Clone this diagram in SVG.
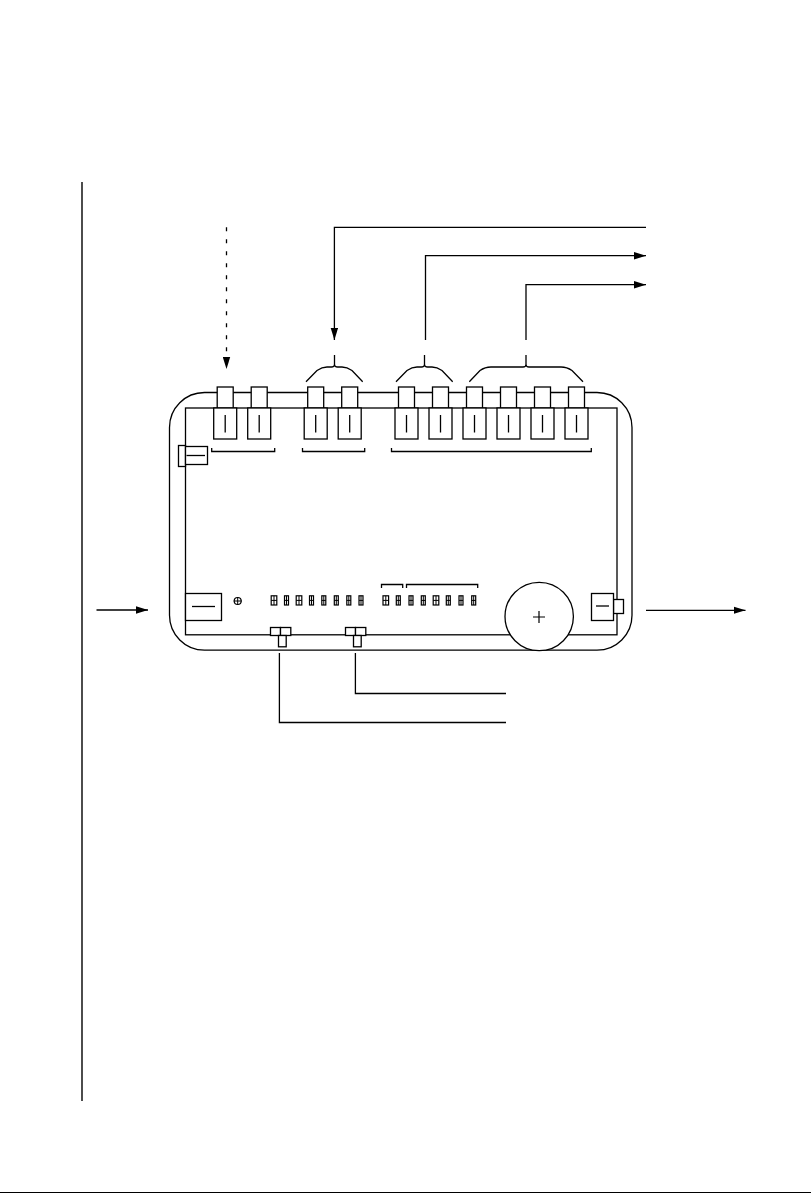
<svg xmlns="http://www.w3.org/2000/svg" xmlns:xlink="http://www.w3.org/1999/xlink" width="811" height="1193" viewBox="0 0 811 1193">
<style>
.s{fill:none;stroke:#000;stroke-width:1.3}
.b{fill:#fff;stroke:#000;stroke-width:1.3}
.t{fill:none;stroke:#000;stroke-width:1.2}
.a{fill:none;stroke:#000;stroke-width:1.3;marker-end:url(#ah)}
</style>
<defs>
<marker id="ah" markerUnits="userSpaceOnUse" markerWidth="12" markerHeight="8" refX="12" refY="4" orient="auto"><path d="M0 .3L12 4L0 7.700Z" fill="#000"/></marker>
<g id="fibre"><rect class="b" x="-8" y="-21" width="16" height="21"/><rect class="b" x="-11.5" y="0" width="23" height="31"/><path class="s" d="M0 7V24.500"/></g>
<g id="sw"><rect class="t" x="-2.800" y="0" width="5.600" height="9.200"/><path d="M0 0V9.200M-2.800 4.600H2.800" fill="none" stroke="#000" stroke-width="1"/></g>
<g id="swn"><rect class="t" x="-2" y="0" width="4" height="9.200"/><path d="M0 0V9.200M-2 4.600H2" fill="none" stroke="#000" stroke-width="1"/></g>
<g id="tee"><rect class="b" x="-10" y="0" width="10" height="8"/><rect class="b" x="0" y="0" width="10.300" height="8"/><rect class="b" x="-2" y="8" width="7.700" height="11.300"/></g>
</defs>
<rect width="811" height="1193" fill="#fff"/>
<path id="margin" d="M82 182V1101" fill="none" stroke="#000" stroke-width="1.4"/>
<path id="baseline" d="M0 1192.500H811" fill="none" stroke="#000"/>
<g id="chassis">
<rect class="s" x="169.500" y="392.500" width="462.500" height="257.700" rx="35" ry="35"/>
<rect class="s" x="185.500" y="408" width="431.500" height="226.800"/>
</g>
<g id="connectors">
<path class="a" d="M646 227.300H334.400V340"/>
<path class="a" d="M425.500 340V255.700H646"/>
<path class="a" d="M526 340V284.700H646"/>
<path class="a" d="M226.500 227.300V369" stroke-dasharray="4 8"/>
<path class="a" d="M96.500 610H148"/>
<path class="a" d="M646 610.300H745.500"/>
<path class="s" d="M355.400 653V693.500H506"/>
<path class="s" d="M279.400 653V722.500H506"/>
</g>
<g id="braces">
<path class="s" d="M306 381.700L317 370.500Q322 367 327 367H331.500Q334.500 367 334.500 364.500Q334.500 367 337.500 367H342Q347 367 352 370.500L362.700 381.700M334.500 364.500V355"/>
<path class="s" d="M396 381.700L407 370.500Q412 367 417 367H421.500Q424.500 367 424.500 364.500Q424.500 367 427.500 367H432Q437 367 442 370.500L452.700 381.700M424.500 364.500V355"/>
<path class="s" d="M469.300 381.700L480 370.500Q485 367 491 367H523Q526 367 526 364.500Q526 367 529 367H561Q567 367 572 370.500L583 381.700M526 364.500V355"/>
</g>
<g id="fibre-1"><use xlink:href="#fibre" x="225.200" y="408"/></g>
<g id="fibre-2"><use xlink:href="#fibre" x="259.200" y="408"/></g>
<g id="fibre-3"><use xlink:href="#fibre" x="315.700" y="408"/></g>
<g id="fibre-4"><use xlink:href="#fibre" x="349.700" y="408"/></g>
<g id="fibre-5"><use xlink:href="#fibre" x="406.500" y="408"/></g>
<g id="fibre-6"><use xlink:href="#fibre" x="440.500" y="408"/></g>
<g id="fibre-7"><use xlink:href="#fibre" x="474.500" y="408"/></g>
<g id="fibre-8"><use xlink:href="#fibre" x="508.500" y="408"/></g>
<g id="fibre-9"><use xlink:href="#fibre" x="542.500" y="408"/></g>
<g id="fibre-10"><use xlink:href="#fibre" x="576.500" y="408"/></g>
<g id="brackets">
<path class="s" d="M211.700 448V451.500H274.700V448"/>
<path class="s" d="M302.500 448V451.500H364.700V448"/>
<path class="s" d="M391.500 448V451.500H591.300V448"/>
<path class="s" d="M381.500 588V584.500H402.700V588"/>
<path class="s" d="M406.500 588V584.500H477.700V588"/>
</g>
<g id="left-jack"><rect class="b" x="178.500" y="445.500" width="7" height="21"/><rect class="b" x="185.500" y="446.500" width="22" height="18"/><path class="s" d="M186.500 455.500H205"/></g>
<g id="power-block"><rect class="b" x="185.500" y="593.500" width="36" height="27"/><path class="s" d="M192 606.500H215"/></g>
<g id="screw"><circle class="t" cx="237.700" cy="601" r="3.500"/><path d="M237.700 597V605M233.700 601H241.700" fill="none" stroke="#000" stroke-width="1"/></g>
<g id="switches-a">
<use xlink:href="#sw" x="274" y="595.800"/><use xlink:href="#swn" x="286.500" y="595.800"/><use xlink:href="#sw" x="299" y="595.800"/><use xlink:href="#swn" x="311.500" y="595.800"/><use xlink:href="#swn" x="323.800" y="595.800"/><use xlink:href="#swn" x="336.300" y="595.800"/><use xlink:href="#swn" x="348.800" y="595.800"/><use xlink:href="#swn" x="361" y="595.800"/>
</g>
<g id="switches-b">
<use xlink:href="#sw" x="385.800" y="595.800"/><use xlink:href="#swn" x="398.300" y="595.800"/><use xlink:href="#swn" x="411" y="595.800"/><use xlink:href="#swn" x="423.300" y="595.800"/><use xlink:href="#sw" x="436" y="595.800"/><use xlink:href="#swn" x="448.300" y="595.800"/><use xlink:href="#swn" x="461" y="595.800"/><use xlink:href="#swn" x="473.700" y="595.800"/>
</g>
<g id="tee-1"><use xlink:href="#tee" x="280.500" y="627.500"/></g>
<g id="tee-2"><use xlink:href="#tee" x="355.500" y="627.500"/></g>
<g id="battery"><circle class="b" cx="539.200" cy="616.500" r="34.200"/><path class="t" d="M533 617H545M539 611V623"/></g>
<g id="right-jack"><rect class="b" x="613.500" y="599.500" width="10" height="14"/><rect class="b" x="591.500" y="593.500" width="22" height="27"/><path class="s" d="M596 606H609"/></g>
</svg>
